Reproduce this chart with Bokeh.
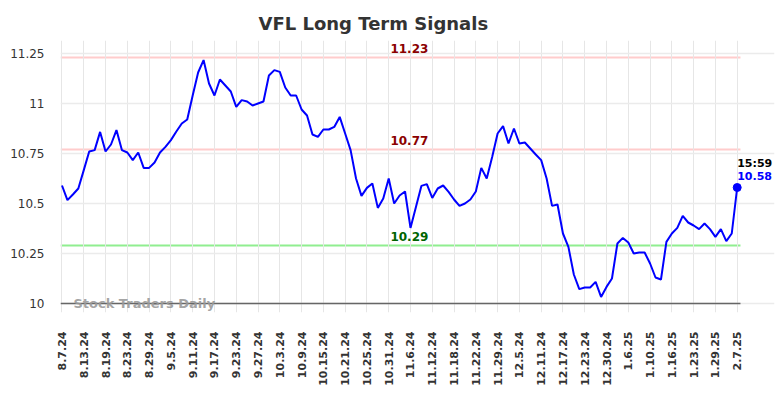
import math
from bokeh.plotting import figure
from bokeh.models import FixedTicker, Label, Range1d
from bokeh.embed import file_html
from bokeh.resources import INLINE

# ---- data ----
tick_labels = ["8.7.24", "8.13.24", "8.19.24", "8.23.24", "8.29.24", "9.5.24",
               "9.11.24", "9.17.24", "9.23.24", "9.27.24", "10.3.24", "10.9.24",
               "10.15.24", "10.21.24", "10.25.24", "10.31.24", "11.6.24", "11.12.24",
               "11.18.24", "11.22.24", "11.29.24", "12.5.24", "12.11.24", "12.17.24",
               "12.23.24", "12.30.24", "1.6.25", "1.10.25", "1.16.25", "1.23.25",
               "1.29.25", "2.7.25"]
tick_positions = [0, 4, 8, 12, 16, 20, 24, 28, 32, 36, 40, 44, 48, 52, 56, 60,
                  64, 68, 72, 76, 80, 84, 88, 92, 96, 100, 104, 108, 112, 116, 120, 124]

prices = [10.59, 10.517, 10.545, 10.575, 10.667, 10.76, 10.767, 10.858, 10.76, 10.795,
          10.867, 10.767, 10.755, 10.717, 10.755, 10.678, 10.678, 10.705, 10.755, 10.783,
          10.817, 10.86, 10.90, 10.92, 11.04, 11.155, 11.217, 11.10, 11.04, 11.12,
          11.09, 11.06, 10.983, 11.017, 11.01, 10.99, 11.00, 11.01, 11.14, 11.167,
          11.158, 11.08, 11.04, 11.04, 10.97, 10.94, 10.845, 10.833, 10.87, 10.87,
          10.883, 10.933, 10.85, 10.767, 10.625, 10.538, 10.578, 10.60, 10.478, 10.525,
          10.625, 10.50, 10.54, 10.56, 10.378, 10.483, 10.588, 10.597, 10.528, 10.575,
          10.59, 10.558, 10.52, 10.488, 10.50, 10.52, 10.56, 10.678, 10.625, 10.733,
          10.85, 10.887, 10.80, 10.875, 10.80, 10.805, 10.775, 10.745, 10.717, 10.625,
          10.488, 10.495, 10.35, 10.283, 10.145, 10.072, 10.08, 10.08, 10.108, 10.033,
          10.083, 10.125, 10.30, 10.328, 10.305, 10.25, 10.255, 10.255, 10.20, 10.13,
          10.12, 10.308, 10.35, 10.378, 10.438, 10.405, 10.39, 10.372, 10.40, 10.372,
          10.333, 10.372, 10.312, 10.35, 10.58]
x_index = list(range(len(prices)))

y_ticks = [10, 10.25, 10.5, 10.75, 11, 11.25]
y_tick_labels = ["10", "10.25", "10.5", "10.75", "11", "11.25"]

levels = [11.23, 10.77, 10.29]
level_line_colors = ["#ffcccc", "#ffcccc", "#90ee90"]
level_text_colors = ["#8b0000", "#8b0000", "#006400"]
last_time = "15:59"

FONT = "DejaVu Sans"

# plotting area (data units); the frame is a little larger so that the
# level labels, end labels and watermark are not clipped
X_LO, X_HI = -0.275, 124.6
Y_LO, Y_HI = 10.0, 11.26

p = figure(width=776, height=390, output_backend="svg", toolbar_location=None,
           x_range=Range1d(X_LO, 130.85), y_range=Range1d(9.955, 11.315),
           min_border_left=60, min_border_right=2, min_border_top=40,
           min_border_bottom=78)
p.outline_line_color = None
p.background_fill_color = "white"

p.title.text = "VFL Long Term Signals"
p.title.text_font = FONT
p.title.text_font_size = "18px"
p.title.text_font_style = "bold"
p.title.text_color = "#333333"
p.title.align = "left"
p.title.offset = 198
p.title.standoff = 13

# x axis
xa = p.xaxis[0]
xa.ticker = FixedTicker(ticks=tick_positions)
xa.major_label_overrides = {t: l for t, l in zip(tick_positions, tick_labels)}
xa.major_label_orientation = math.pi / 2
xa.major_label_text_font = FONT
xa.major_label_text_font_size = "11px"
xa.major_label_text_font_style = "bold"
xa.major_label_text_color = "#333333"
xa.major_tick_line_color = None
xa.minor_tick_line_color = None
xa.major_tick_out = 0
xa.major_tick_in = 0
xa.axis_line_color = None
xa.major_label_standoff = 19

ya = p.yaxis[0]
ya.ticker = FixedTicker(ticks=y_ticks)
ya.major_label_overrides = {t: l for t, l in zip(y_ticks, y_tick_labels)}
ya.major_label_text_font = FONT
ya.major_label_text_font_size = "12px"
ya.major_label_text_color = "#333333"
ya.major_tick_line_color = None
ya.minor_tick_line_color = None
ya.major_tick_out = 0
ya.major_tick_in = 0
ya.axis_line_color = None
ya.major_label_standoff = 16

p.xgrid.ticker = FixedTicker(ticks=tick_positions)
p.xgrid.grid_line_color = "#e6e6e6"
p.xgrid.bounds = (Y_LO, Y_HI)
p.ygrid.ticker = FixedTicker(ticks=y_ticks)
p.ygrid.grid_line_color = "#ebebeb"
p.ygrid.grid_line_width = 1.5
p.ygrid.bounds = (X_LO, X_HI)

# support / resistance levels
for lv, lc, tc in zip(levels, level_line_colors, level_text_colors):
    p.segment(x0=[X_LO], y0=[lv], x1=[X_HI], y1=[lv], line_color=lc,
              line_width=2, level="underlay")
    p.add_layout(Label(x=63.8, y=lv, text=f"{lv:.2f}", y_offset=9,
                       text_align="center", text_baseline="alphabetic",
                       text_font=FONT, text_font_size="12px",
                       text_font_style="bold", text_color=tc))

# baseline (bottom axis line)
p.segment(x0=[X_LO], y0=[Y_LO], x1=[X_HI], y1=[Y_LO], line_color="#666666",
          line_width=1.5)

p.line(x_index, prices, line_color="blue", line_width=2)
p.scatter([x_index[-1]], [prices[-1]], size=8, color="blue")

p.add_layout(Label(x=x_index[-1], y=prices[-1], text=f"{prices[-1]:.2f}",
                   y_offset=11.5, text_align="left", text_baseline="alphabetic",
                   text_font=FONT, text_font_size="11px", text_font_style="bold",
                   text_color="blue"))
p.add_layout(Label(x=x_index[-1], y=prices[-1], text=last_time,
                   y_offset=24.5, text_align="left", text_baseline="alphabetic",
                   text_font=FONT, text_font_size="11px", text_font_style="bold",
                   text_color="black"))

p.add_layout(Label(x=2.11, y=Y_LO, text="Stock Traders Daily", y_offset=0,
                   text_align="left", text_baseline="alphabetic",
                   text_font=FONT, text_font_size="13px", text_font_style="bold",
                   text_color="#999999", text_alpha=0.9))

open("out.html", "w").write(file_html(p, INLINE))
